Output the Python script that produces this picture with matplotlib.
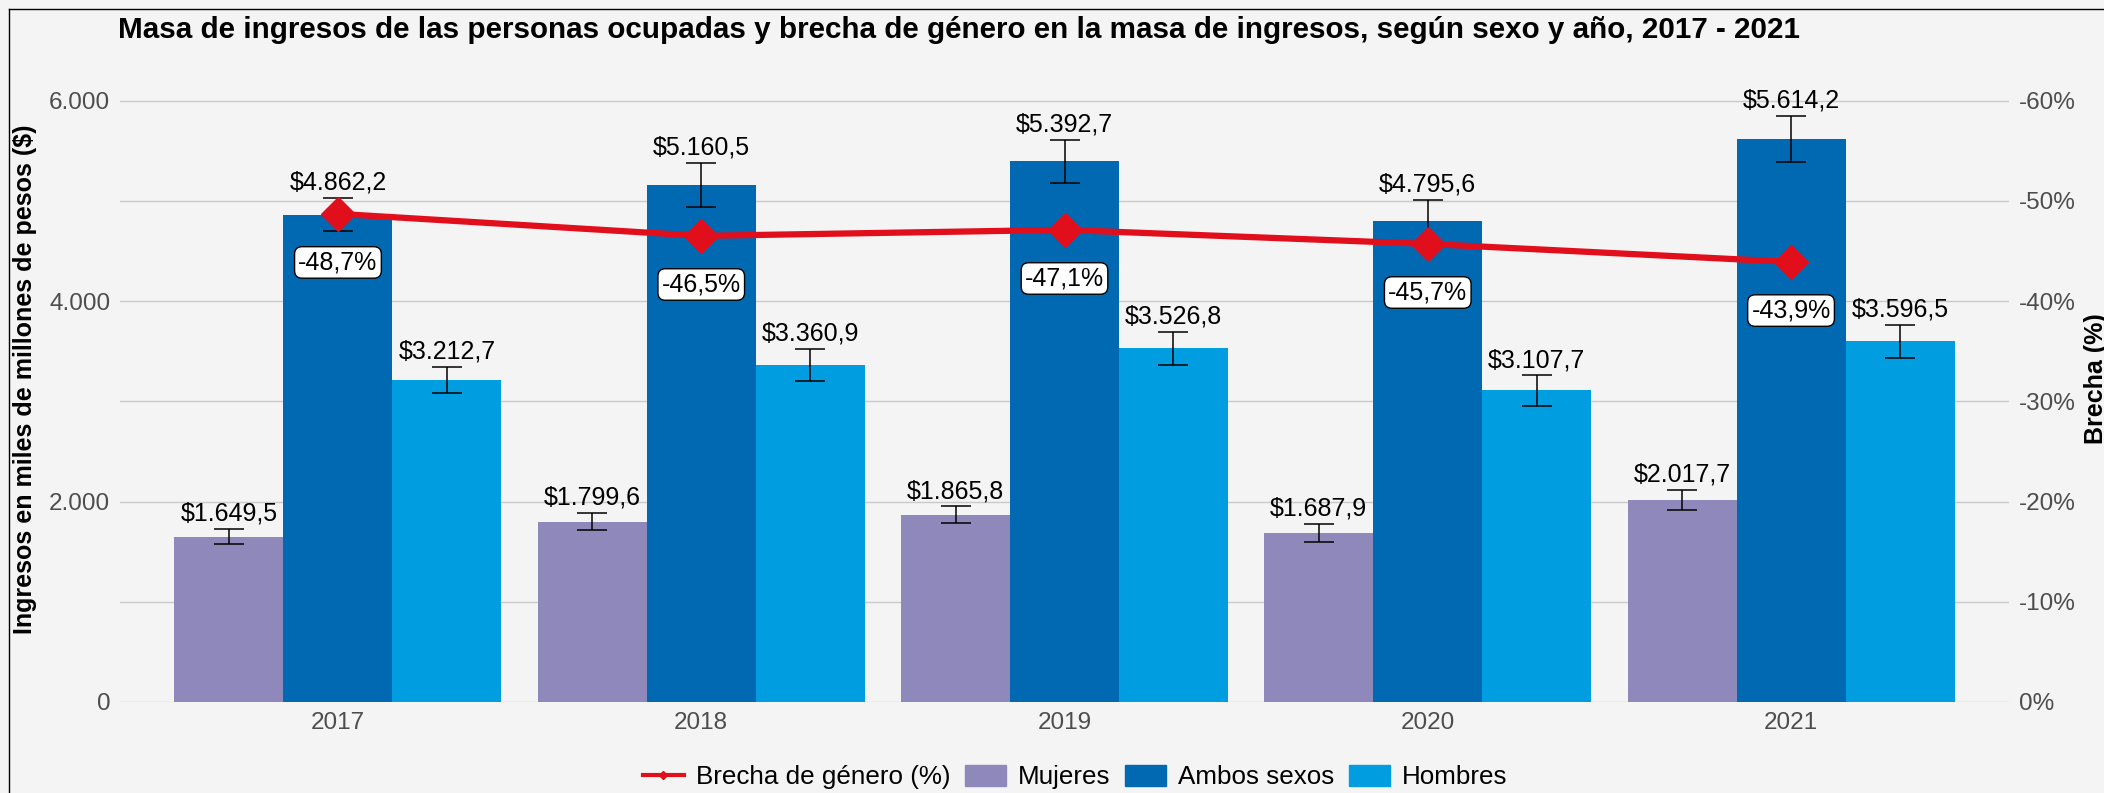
import numpy as np
import matplotlib
matplotlib.use('Agg')
import matplotlib.pyplot as plt
from matplotlib.lines import Line2D
from matplotlib.patches import Patch

plt.rcParams['font.family'] = ['Liberation Sans', 'DejaVu Sans']

# data (miles de millones de pesos)
years = ['2017', '2018', '2019', '2020', '2021']
mujeres = [1649.5, 1799.6, 1865.8, 1687.9, 2017.7]
ambos = [4862.2, 5160.5, 5392.7, 4795.6, 5614.2]
hombres = [3212.7, 3360.9, 3526.8, 3107.7, 3596.5]
err_mujeres = [75, 83, 85, 92, 100]
err_ambos = [165, 220, 211, 210, 230]
err_hombres = [127, 163, 166, 150, 162]
brecha = [-48.7, -46.5, -47.1, -45.7, -43.9]

bg = '#f4f4f4'
red = '#e10e1c'
colors = {'Mujeres': '#8e89ba', 'Ambos sexos': '#0069b1', 'Hombres': '#009ee0'}
tick_col = '#4d4d4d'

W, H = 2104, 793


def pesos(v):
    s = f'{v:,.1f}'.replace(',', 'X').replace('.', ',').replace('X', '.')
    return '$' + s


fig = plt.figure(figsize=(W / 100, H / 100), dpi=100, facecolor=bg)
ax = fig.add_axes([120 / W, (H - 702) / H, (2009 - 120) / W, 627 / H])
ax.set_facecolor(bg)

x = np.arange(len(years))
w = 0.3
series = [(mujeres, err_mujeres, 'Mujeres', -w),
          (ambos, err_ambos, 'Ambos sexos', 0),
          (hombres, err_hombres, 'Hombres', w)]

for vals, errs, name, off in series:
    ax.bar(x + off, vals, w, color=colors[name], label=name, zorder=2)
    ax.errorbar(x + off, vals, yerr=errs, fmt='none', ecolor='black',
                elinewidth=1.1, capsize=10.8, capthick=1.1, zorder=3)
    for xi, v, e in zip(x + off, vals, errs):
        ax.annotate(pesos(v), (xi, v + e), xytext=(0, 6), textcoords='offset points',
                    ha='center', va='baseline', fontsize=18, zorder=4)

ax.set_xlim(-0.6, 4.6)
ax.set_ylim(0, 6255)
ax.set_xticks(x)
ax.set_xticklabels(years)
ax.set_yticks([0, 2000, 4000, 6000])
ax.set_yticks([1000, 3000, 5000], minor=True)
ax.yaxis.set_major_formatter(lambda v, p: f'{int(v):,}'.replace(',', '.'))
ax.grid(which='both', axis='y', color='#cacaca', lw=1.0, zorder=0)
ax.set_axisbelow(True)
ax.tick_params(axis='both', which='both', length=0, labelsize=17.5, colors=tick_col)
ax.tick_params(axis='y', pad=7)
ax.tick_params(axis='x', pad=7)
for sp in ax.spines.values():
    sp.set_visible(False)

# gender gap on the right axis
ax2 = ax.twinx()
ax2.set_ylim(0, -62.55)
ax2.plot(x, brecha, color=red, lw=4.5, marker='D', ms=17, zorder=5)
for xi, b in zip(x, brecha):
    ax2.annotate(f'{b:.1f}%'.replace('.', ','), (xi, b), xytext=(0, -35),
                 textcoords='offset points', ha='center', va='center', fontsize=18,
                 bbox=dict(boxstyle='round,pad=0.15,rounding_size=0.3', fc='white', ec='black', lw=1),
                 zorder=6)
ax2.set_yticks([0, -10, -20, -30, -40, -50, -60])
ax2.yaxis.set_major_formatter(lambda v, p: f'{int(round(v))}%')
ax2.tick_params(axis='y', length=0, labelsize=17.5, colors=tick_col, pad=7)
for sp in ax2.spines.values():
    sp.set_visible(False)

fig.text(118 / W, 1 - 30 / H,
         'Masa de ingresos de las personas ocupadas y brecha de género en la masa de ingresos, '
         'según sexo y año, 2017 - 2021',
         fontsize=21.3, fontweight='bold', ha='left', va='center')
fig.text(13 / W, 1 - 379 / H, 'Ingresos en miles de millones de pesos ($)',
         rotation=90, fontsize=18, fontweight='bold', ha='left', va='center')
fig.text(2084 / W, 1 - 379 / H, 'Brecha (%)',
         rotation=90, fontsize=18, fontweight='bold', ha='left', va='center')

handles = [Line2D([0], [0], color=red, lw=3, marker='D', ms=4),
           Patch(color=colors['Mujeres']),
           Patch(color=colors['Ambos sexos']),
           Patch(color=colors['Hombres'])]
labels = ['Brecha de género (%)', 'Mujeres', 'Ambos sexos', 'Hombres']
fig.legend(handles, labels, loc='center', bbox_to_anchor=(1075 / W, 1 - 777 / H), ncol=4,
           frameon=False, fontsize=18.7, handlelength=1.6, handleheight=0.9,
           handletextpad=0.45, columnspacing=0.55)

# frame lines visible on the left and top edge
fig.add_artist(Line2D([9 / W, 9 / W], [0, 1 - 9 / H], transform=fig.transFigure, color='black', lw=1))
fig.add_artist(Line2D([9 / W, 1], [1 - 9 / H, 1 - 9 / H], transform=fig.transFigure, color='black', lw=1))

fig.savefig('out.png', dpi=100, facecolor=bg)
